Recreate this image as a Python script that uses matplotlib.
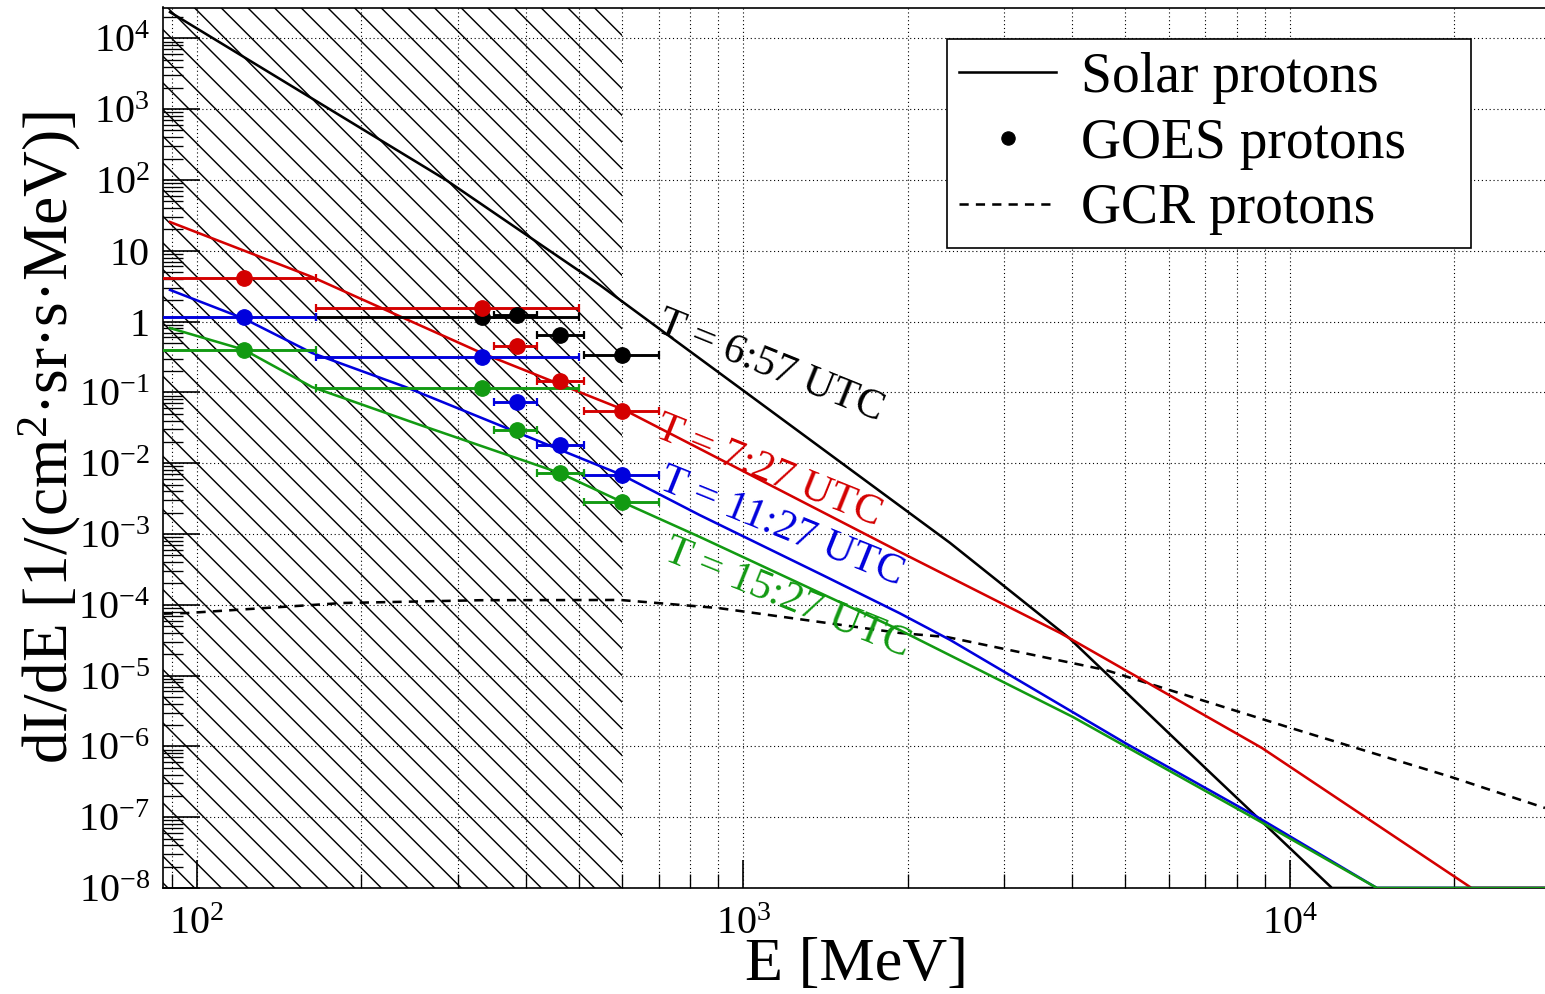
import numpy as np
import matplotlib
matplotlib.use('Agg')
import matplotlib.pyplot as plt
from matplotlib.lines import Line2D
from matplotlib.ticker import LogLocator, FuncFormatter

plt.rcParams['font.family'] = 'Liberation Serif'
plt.rcParams['mathtext.fontset'] = 'custom'
plt.rcParams['mathtext.rm'] = 'Liberation Serif'
plt.rcParams['mathtext.it'] = 'Liberation Serif:italic'
plt.rcParams['hatch.linewidth'] = 1.3

# model spectra (E in MeV, dI/dE)
solar_E = [89.3, 285.7, 546, 1000, 2388, 3945, 6975, 11940, 30000]
solar_I = [2.35e4, 100, 3.29, 0.106, 7.5e-4, 3.4e-5, 5.1e-7, 1e-8, 1e-8]

red_E = [89.3, 162.5, 332, 607, 1932, 3800, 8890, 21500, 30000]
red_I = [25.5, 4.27, 0.36, 0.056, 5.6e-4, 4.0e-5, 9.5e-7, 1e-8, 1e-8]

blue_E = [89.3, 122, 162.5, 241, 417, 600, 832, 1400, 1932, 2388, 5012, 8730, 14430, 30000]
blue_I = [2.8, 1.1, 0.36, 0.119, 0.0213, 6.8e-3, 1.85e-3, 2.6e-4, 7.6e-5, 3.2e-5, 1.1e-6, 1.0e-7, 1e-8, 1e-8]

green_E = [89.3, 122, 162.5, 256, 461, 600, 832, 1932, 4010, 8730, 14430, 30000]
green_I = [0.81, 0.40, 0.119, 0.0347, 7.3e-3, 2.83e-3, 9.1e-4, 4.4e-5, 2.6e-6, 9.1e-8, 1e-8, 1e-8]

gcr_E = [87, 96, 185, 330, 595, 900, 1932, 2360, 4600, 9860, 19720, 29300]
gcr_I = [7.5e-5, 7.65e-5, 1.06e-4, 1.16e-4, 1.17e-4, 9.0e-5, 4.0e-5, 3.5e-5, 1.2e-5, 1.9e-6, 3.7e-7, 1.35e-7]

# GOES channels P6..P10
goes_E = np.array([122, 332, 385, 461, 600])
goes_lo = np.array([80, 165, 350, 420, 510])
goes_hi = np.array([165, 500, 420, 510, 700])
goes_black = [1.16, 1.24, 0.65, 0.337]  # P7..P10 only
goes_red = [4.17, 1.55, 0.45, 0.145, 0.055]
goes_blue = [1.17, 0.32, 0.074, 0.018, 6.8e-3]
goes_green = [0.40, 0.114, 0.0294, 7.2e-3, 2.86e-3]

RED = '#d40000'
BLUE = '#0000dd'
GREEN = '#129a12'

fig = plt.figure(figsize=(1545 / 80, 994 / 80), dpi=80)
ax = fig.add_axes([163 / 1545, 1 - 888 / 994, 1382 / 1545, 880.5 / 994])
ax.set_xscale('log')
ax.set_yscale('log')
ax.set_xlim(86.7, 29300)
ax.set_ylim(1e-8, 2.73e4)

# region below 600 MeV is hatched
ax.axvspan(50, 600, facecolor='none', edgecolor='black', hatch='\\', linewidth=0, zorder=1)

ax.grid(True, axis='x', which='both', color='black', linestyle=(0, (1, 2.5)), linewidth=1.0)
ax.grid(True, axis='y', which='major', color='black', linestyle=(0, (1, 2.5)), linewidth=1.0)

ax.plot(gcr_E, gcr_I, color='black', lw=2.3, ls=(0, (3.6, 2.8)), zorder=3)
ax.plot(solar_E, solar_I, color='black', lw=2.3, zorder=3)
ax.plot(red_E, red_I, color=RED, lw=2.3, zorder=3)
ax.plot(blue_E, blue_I, color=BLUE, lw=2.3, zorder=3)
ax.plot(green_E, green_I, color=GREEN, lw=2.3, zorder=3)

def goes(E, lo, hi, vals, c):
    ax.errorbar(E, vals, xerr=[E - lo, hi - E], fmt='o', color=c, ms=14,
                elinewidth=2.6, capsize=3.5, capthick=2, zorder=4)

goes(goes_E[1:], goes_lo[1:], goes_hi[1:], goes_black, 'black')
goes(goes_E, goes_lo, goes_hi, goes_red, RED)
goes(goes_E, goes_lo, goes_hi, goes_blue, BLUE)
goes(goes_E, goes_lo, goes_hi, goes_green, GREEN)

lab = dict(rotation=-22, rotation_mode='anchor', ha='left', va='center', fontsize=38)
ax.text(700, 0.99, 'T = 6:57 UTC', color='black', **lab)
ax.text(695, 0.0335, 'T = 7:27 UTC', color=RED, **lab)
ax.text(705, 6.0e-3, 'T = 11:27 UTC', color=BLUE, **lab)
ax.text(720, 6.1e-4, 'T = 15:27 UTC', color=GREEN, **lab)

# axes, ticks
ax.xaxis.set_major_locator(LogLocator(base=10, numticks=30))
ax.yaxis.set_major_locator(LogLocator(base=10, numticks=30))
ax.xaxis.set_minor_locator(LogLocator(base=10, subs=np.arange(2, 10), numticks=100))
ax.yaxis.set_minor_locator(LogLocator(base=10, subs=np.arange(2, 10), numticks=100))

def ylab(v, p):
    n = int(round(np.log10(v)))
    if n == 0:
        return '1'
    if n == 1:
        return '10'
    return r'$10^{%d}$' % n

ax.yaxis.set_major_formatter(FuncFormatter(ylab))
ax.xaxis.set_major_formatter(FuncFormatter(lambda v, p: r'$10^{%d}$' % int(round(np.log10(v)))))

ax.tick_params(axis='both', which='both', direction='in', top=False, right=False)
ax.yaxis.set_tick_params(which='major', length=33, width=1.5, pad=12, labelsize=36)
ax.yaxis.set_tick_params(which='minor', length=18, width=1.2)
ax.xaxis.set_tick_params(which='major', length=25, width=1.5, pad=16, labelsize=36)
ax.xaxis.set_tick_params(which='minor', length=12.5, width=1.2)

ax.spines['right'].set_visible(False)
for s in ['left', 'top', 'bottom']:
    ax.spines[s].set_linewidth(1.5)

ax.set_xlabel('E [MeV]', fontsize=56)
ax.xaxis.set_label_coords(0.502, -0.0557)
ax.set_ylabel(r'dI/dE [1/(cm$^{2}$·sr·s·MeV)]', fontsize=57, va='center')
ax.yaxis.set_label_coords(-0.0818, 0.512)

handles = [Line2D([], [], color='black', lw=2.3),
           Line2D([], [], color='black', marker='o', ms=12, ls='none'),
           Line2D([], [], color='black', lw=2.3, ls=(0, (3.6, 2.8)))]
leg = ax.legend(handles, ['Solar protons', 'GOES protons', 'GCR protons'],
                loc='upper left', bbox_to_anchor=(0.5673, 0.7364, 0.3792, 0.2273),
                mode='expand', borderaxespad=0, fontsize=50, frameon=True,
                fancybox=False, framealpha=1, edgecolor='black',
                handlelength=1.75, handletextpad=0.45, borderpad=0.22,
                labelspacing=0.25)
leg.get_frame().set_linewidth(1.5)

fig.savefig('out.png', dpi=80)
